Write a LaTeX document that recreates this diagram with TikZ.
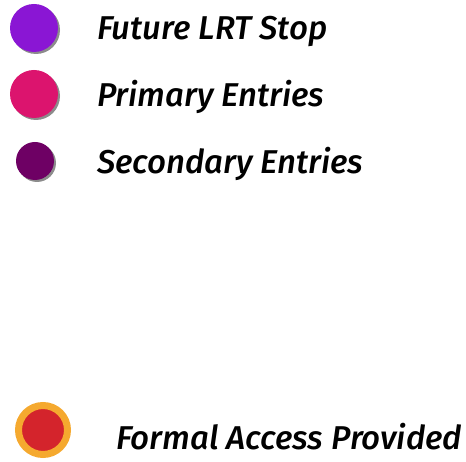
\documentclass[tikz,border=0pt]{standalone}
\usepackage{fontspec}
\setmainfont{Fira Sans}[ItalicFont={Fira Sans Medium Italic}]
\usetikzlibrary{shadows}
\definecolor{lrtviolet}{HTML}{8A16D4}
\definecolor{primpink}{HTML}{DC146E}
\definecolor{secplum}{HTML}{6E0064}
\definecolor{accred}{HTML}{D4242C}
\definecolor{accorange}{HTML}{F5A92F}
\begin{document}
\begin{tikzpicture}[
        x=1pt, y=-1pt,
        dot/.style={
            circle,
            inner sep=0pt,
            draw=none,
            drop shadow={shadow xshift=2pt, shadow yshift=-2pt, fill=black!45, opacity=1}
        },
        eintrag/.style={
            anchor=west,
            inner sep=0pt,
            font=\fontsize{33}{38}\selectfont\itshape
        }
    ]
    \useasboundingbox (0,0) rectangle (466,462);
    % Punkte
    \node[dot, fill=lrtviolet, minimum size=48pt] (lrt) at (34,28) {};
    \node[dot, fill=primpink, minimum size=48pt] (prim) at (34,94) {};
    \node[dot, fill=secplum, minimum size=38pt] (sec) at (35,161) {};
    \node[circle, fill=accred, draw=accorange, line width=7pt,
        minimum size=49pt, inner sep=0pt] (formal) at (43,430) {};
    % Beschriftungen
    \node[eintrag] (lrttext) at (97,31) {Future LRT Stop};
    \node[eintrag] (primtext) at (97,97) {Primary Entries};
    \node[eintrag] (sectext) at (97,164) {Secondary Entries};
    \node[eintrag] (formaltext) at (116,437) {Formal Access Provided};
\end{tikzpicture}
\end{document}
